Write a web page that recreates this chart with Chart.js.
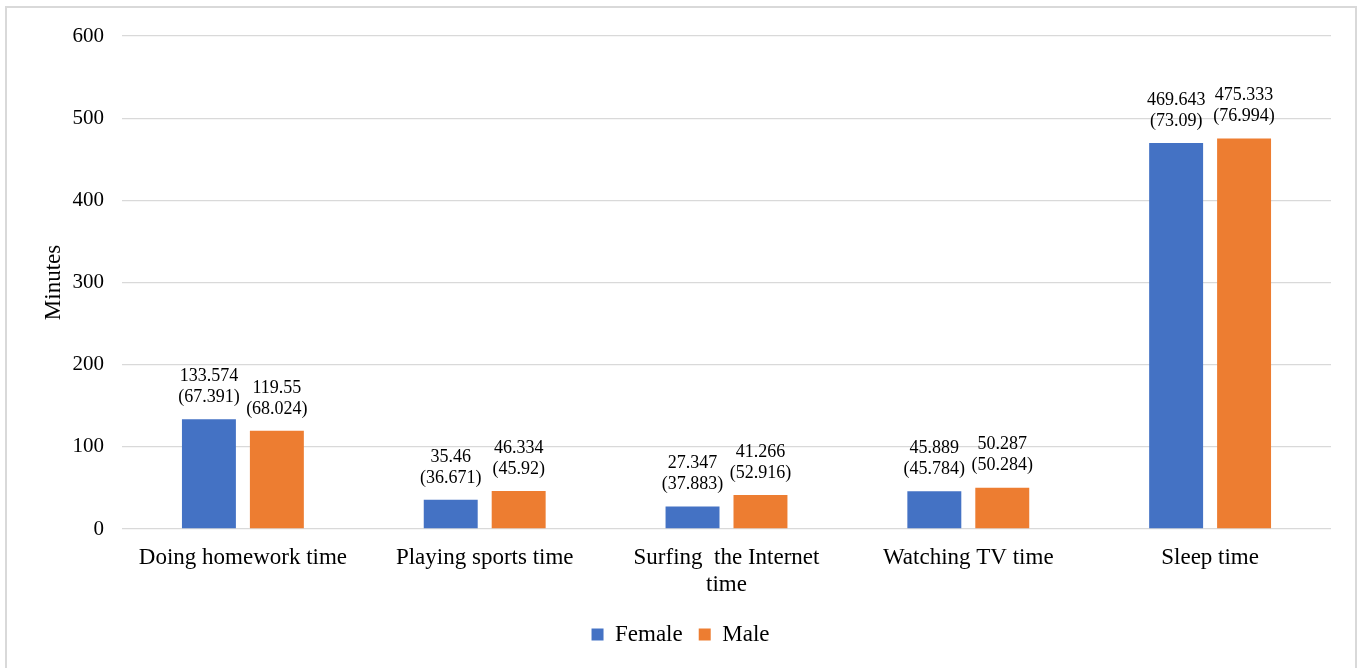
<!DOCTYPE html>
<html>
<head>
<meta charset="utf-8">
<script src="https://cdn.jsdelivr.net/npm/chart.js@4/dist/chart.umd.min.js"></script>
<style>
  html, body { margin: 0; padding: 0; background: #fff; overflow: hidden; }
  #frame { position: absolute; left: 5px; top: 6px; width: 1352px; height: 680px; border: 2px solid #d9d9d9; box-sizing: border-box; }
  #wrap { position: absolute; left: 0; top: 0; width: 1365px; height: 668px; }
</style>
</head>
<body>
<div id="frame"></div>
<div id="wrap"><canvas id="c" width="1365" height="668"></canvas></div>
<script>
const categories = ["Doing homework time", "Playing sports time", ["Surfing  the Internet", "time"], "Watching TV time", "Sleep time"];
const femaleMeans = [133.574, 35.46, 27.347, 45.889, 469.643];
const maleMeans = [119.55, 46.334, 41.266, 50.287, 475.333];
const femaleSD = ["67.391", "36.671", "37.883", "45.784", "73.09"];
const maleSD = ["68.024", "45.92", "52.916", "50.284", "76.994"];
const femaleMeanText = ["133.574", "35.46", "27.347", "45.889", "469.643"];
const maleMeanText = ["119.55", "46.334", "41.266", "50.287", "475.333"];
const seriesNames = ["Female", "Male"];
const yTicks = [0, 100, 200, 300, 400, 500, 600];

const SERIF = "'Liberation Serif', 'Times New Roman', serif";

const labelPlugin = {
  id: 'barLabels',
  afterDatasetsDraw(chart) {
    const ctx = chart.ctx;
    const texts = [[femaleMeanText, femaleSD], [maleMeanText, maleSD]];
    ctx.save();
    ctx.font = "18px " + SERIF;
    ctx.fillStyle = "#000";
    ctx.textAlign = "center";
    ctx.textBaseline = "middle";
    chart.data.datasets.forEach((ds, di) => {
      const meta = chart.getDatasetMeta(di);
      meta.data.forEach((bar, i) => {
        ctx.fillText(texts[di][0][i], bar.x, bar.y - 43);
        ctx.fillText("(" + texts[di][1][i] + ")", bar.x, bar.y - 22);
      });
    });
    ctx.restore();
  }
};

new Chart(document.getElementById('c'), {
  type: 'bar',
  data: {
    labels: categories,
    datasets: [
      { label: seriesNames[0], data: femaleMeans, backgroundColor: '#4472C4', borderWidth: 0 },
      { label: seriesNames[1], data: maleMeans, backgroundColor: '#ED7D31', borderWidth: 0 }
    ]
  },
  options: {
    responsive: false,
    animation: false,
    devicePixelRatio: 1,
    layout: { padding: { left: 30, right: 34, top: 36, bottom: 12 } },
    datasets: { bar: { categoryPercentage: 0.562, barPercentage: 0.794 } },
    plugins: {
      tooltip: { enabled: false },
      legend: {
        position: 'bottom',
        labels: {
          font: { family: SERIF, size: 23 },
          color: '#000',
          boxWidth: 12,
          boxHeight: 12,
          padding: 16
        }
      }
    },
    scales: {
      x: {
        grid: { display: false, drawTicks: false },
        border: { display: false },
        ticks: {
          font: { family: SERIF, size: 23 },
          color: '#000',
          padding: 15,
          maxRotation: 0,
          autoSkip: false
        },
        afterFit(scale) { scale.height = 78; }
      },
      y: {
        min: 0,
        max: 600,
        afterBuildTicks(scale) { scale.ticks = yTicks.map(v => ({ value: v })); },
        grid: { color: '#d9d9d9', lineWidth: 1.3, drawTicks: false },
        border: { display: false },
        ticks: {
          font: { family: SERIF, size: 21 },
          color: '#000',
          padding: 18
        },
        title: {
          display: true,
          text: 'Minutes',
          font: { family: SERIF, size: 23 },
          color: '#000',
          padding: { top: 10, bottom: 0 }
        },
        afterFit(scale) { scale.width = 92; }
      }
    }
  },
  plugins: [labelPlugin]
});
</script>
</body>
</html>
